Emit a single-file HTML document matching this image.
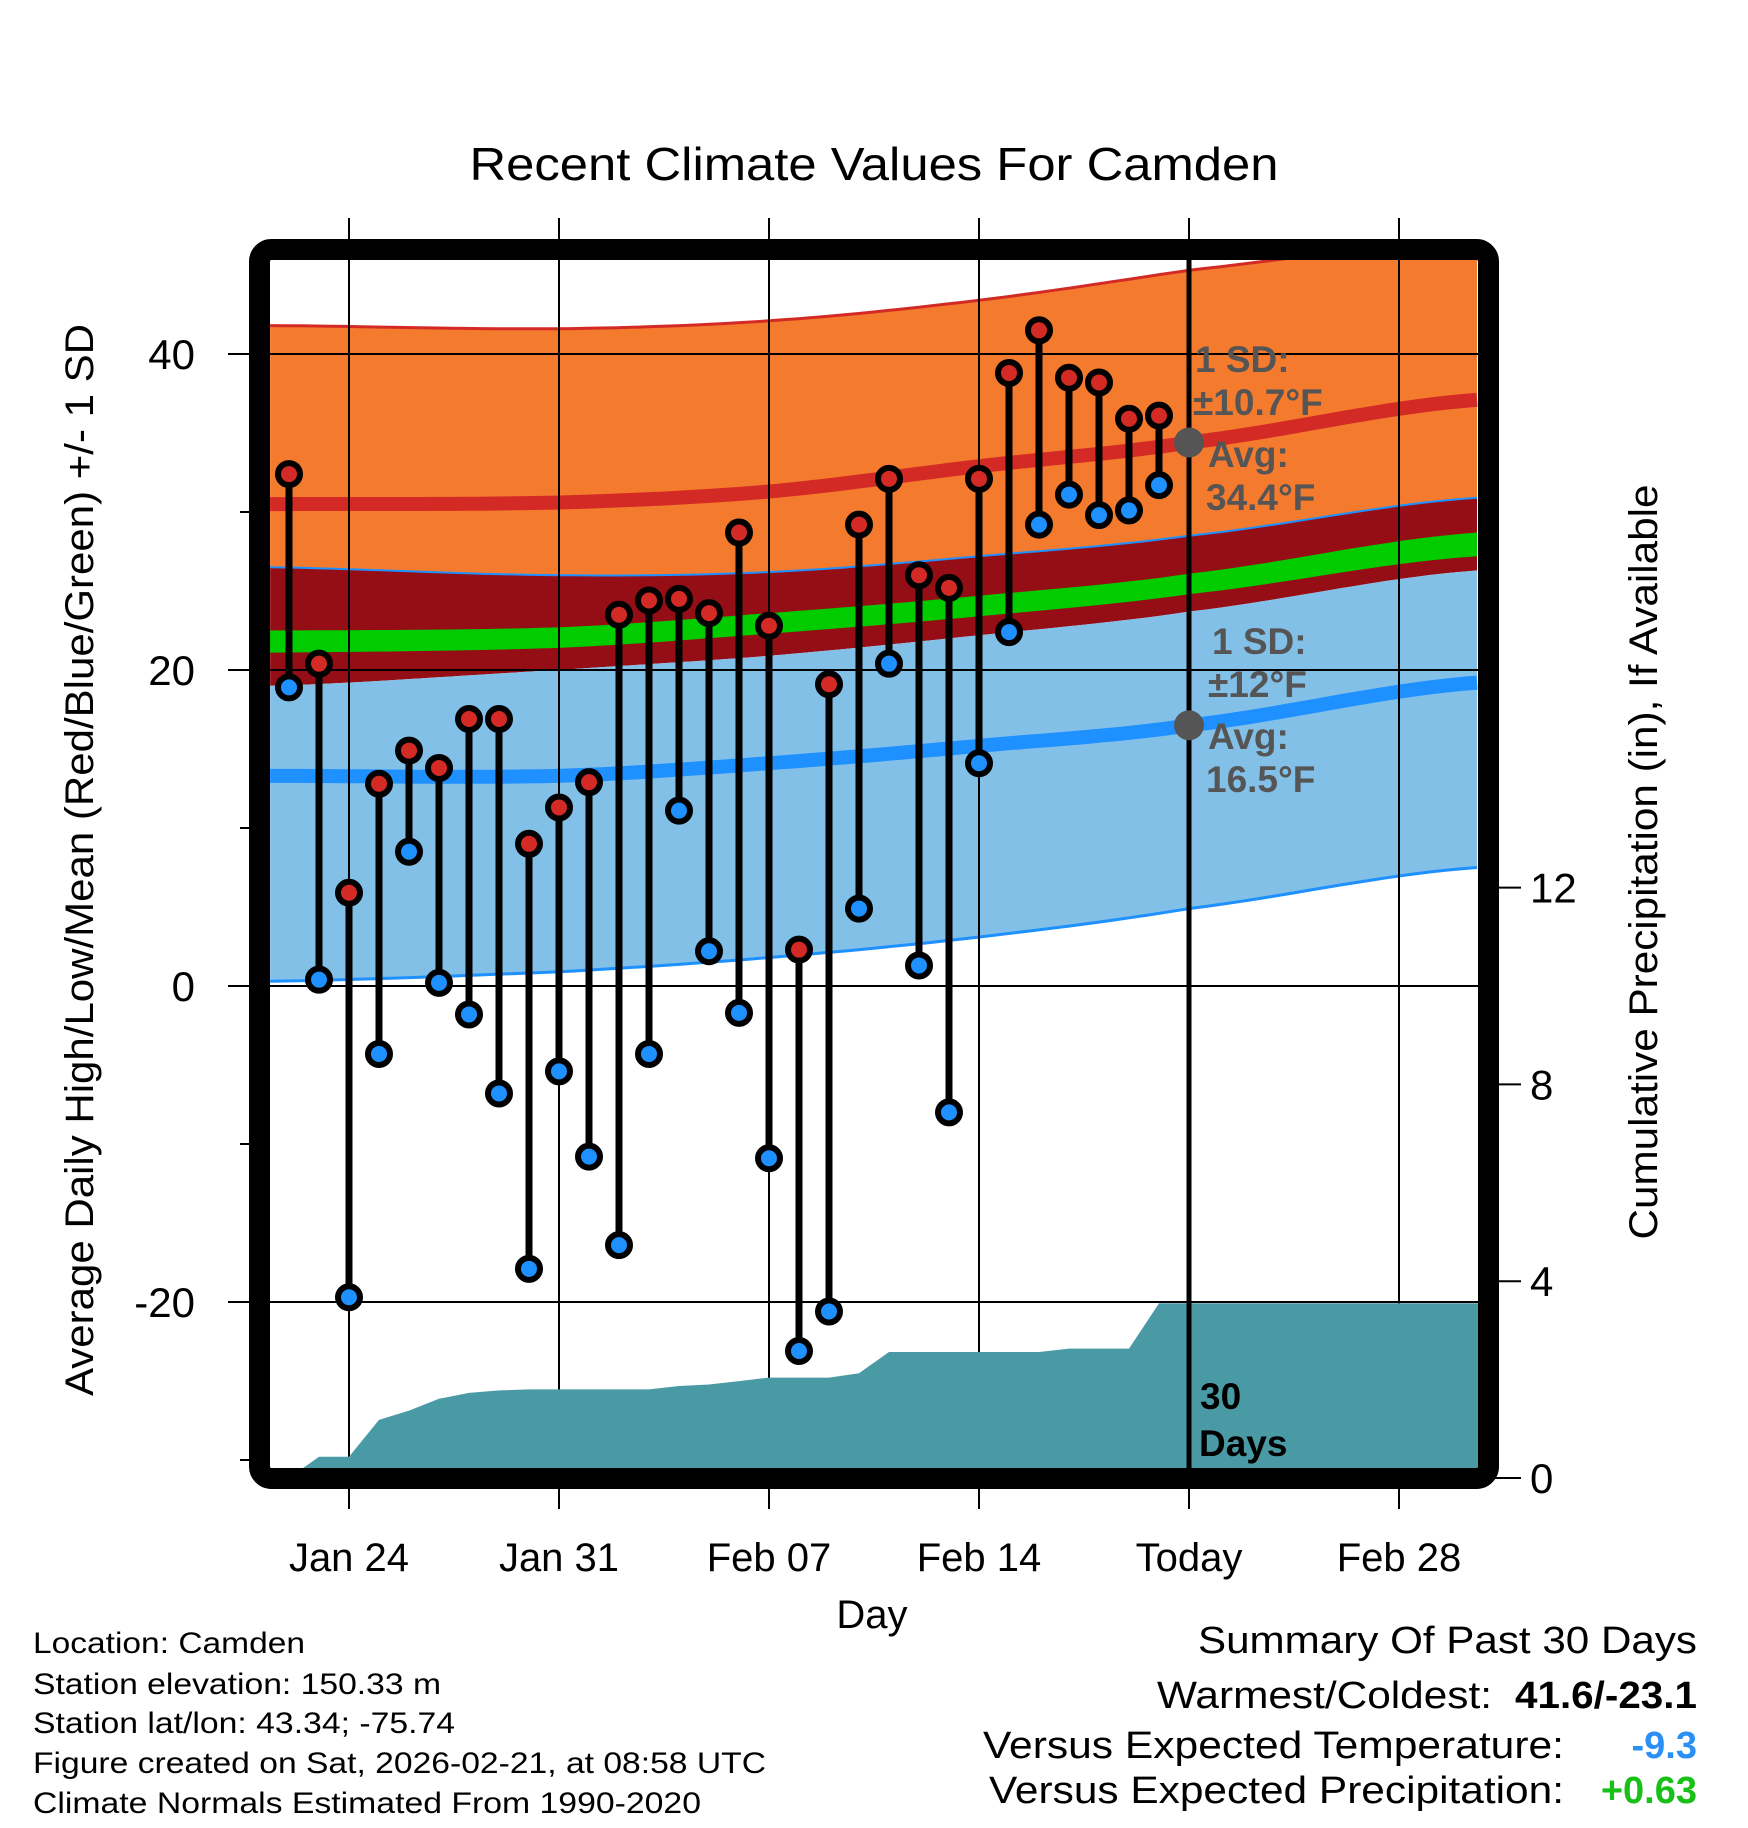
<!DOCTYPE html>
<html><head><meta charset="utf-8"><style>html,body{margin:0;padding:0;background:#fff}svg{display:block}text{font-family:"Liberation Sans",Arial,sans-serif}</style></head>
<body>
<svg id="chart" width="1748" height="1828" viewBox="0 0 1748 1828" xmlns="http://www.w3.org/2000/svg">
<defs><clipPath id="plotclip"><rect x="270" y="260" width="1208" height="1208"/></clipPath></defs>
<g id="bands" clip-path="url(#plotclip)"></g>
<g id="grid"></g>
<g id="precip" clip-path="url(#plotclip)"></g>
<g id="today"></g>
<g id="marks"></g>
<rect x="259.5" y="249.5" width="1229" height="1229" rx="12" fill="none" stroke="#000" stroke-width="21"/>
<g id="axes"></g>
<text x="874" y="180" font-size="46" text-anchor="middle" textLength="809" lengthAdjust="spacingAndGlyphs">Recent Climate Values For Camden</text>
<text transform="translate(93,860) rotate(-90)" font-size="40" text-anchor="middle" textLength="1072" lengthAdjust="spacingAndGlyphs">Average Daily High/Low/Mean (Red/Blue/Green) +/- 1 SD</text>
<text transform="translate(1657,862) rotate(-90)" font-size="40" text-anchor="middle" textLength="755" lengthAdjust="spacingAndGlyphs">Cumulative Precipitation (in), If Available</text>
<text x="872" y="1628" font-size="40" text-anchor="middle">Day</text>
<g font-size="30">
<text x="33" y="1653" textLength="272" lengthAdjust="spacingAndGlyphs">Location: Camden</text>
<text x="33" y="1694" textLength="408" lengthAdjust="spacingAndGlyphs">Station elevation: 150.33 m</text>
<text x="33" y="1733" textLength="422" lengthAdjust="spacingAndGlyphs">Station lat/lon: 43.34; -75.74</text>
<text x="33" y="1773" textLength="733" lengthAdjust="spacingAndGlyphs">Figure created on Sat, 2026-02-21, at 08:58 UTC</text>
<text x="33" y="1813" textLength="668" lengthAdjust="spacingAndGlyphs">Climate Normals Estimated From 1990-2020</text>
</g>
<g font-size="38">
<text x="1697" y="1653" text-anchor="end" textLength="499" lengthAdjust="spacingAndGlyphs">Summary Of Past 30 Days</text>
<text x="1492" y="1708" text-anchor="end" textLength="335" lengthAdjust="spacingAndGlyphs">Warmest/Coldest:</text>
<text x="1697" y="1708" text-anchor="end" font-weight="bold" textLength="182" lengthAdjust="spacingAndGlyphs">41.6/-23.1</text>
<text x="1564" y="1758" text-anchor="end" textLength="581" lengthAdjust="spacingAndGlyphs">Versus Expected Temperature:</text>
<text x="1697" y="1758" text-anchor="end" font-weight="bold" fill="#2b90f5">-9.3</text>
<text x="1564" y="1803" text-anchor="end" textLength="575" lengthAdjust="spacingAndGlyphs">Versus Expected Precipitation:</text>
<text x="1697" y="1803" text-anchor="end" font-weight="bold" fill="#18c018">+0.63</text>
</g>
<g font-size="37" font-weight="bold" fill="#555">
<text x="1195" y="372">1 SD:</text>
<text x="1193" y="415">±10.7°F</text>
<text x="1208" y="467">Avg:</text>
<text x="1206" y="510">34.4°F</text>
<text x="1212" y="654">1 SD:</text>
<text x="1208" y="697">±12°F</text>
<text x="1208" y="749">Avg:</text>
<text x="1206" y="792">16.5°F</text>
</g>
<g font-size="37" font-weight="bold" fill="#000">
<text x="1200" y="1409">30</text>
<text x="1199" y="1456">Days</text>
</g>
</svg>
<script>
// ---- data ----
const dayOffsets = [-2,-1,0,1,2,3,4,5,6,7,8,9,10,11,12,13,14,15,16,17,18,19,20,21,22,23,24,25,26,27];
const highs = [32.4,20.4,5.9,12.8,14.9,13.8,16.9,16.9,9.0,11.3,12.9,23.5,24.4,24.5,23.6,28.7,22.8,2.3,19.1,29.2,32.1,26.0,25.2,32.1,38.8,41.5,38.5,38.2,35.9,36.1];
const lows = [18.9,0.4,-19.7,-4.3,8.5,0.2,-1.8,-6.8,-17.9,-5.4,-10.8,-16.4,-4.3,11.1,2.2,-1.7,-10.9,-23.1,-20.6,4.9,20.4,1.3,-8.0,14.1,22.4,29.2,31.1,29.8,30.1,31.7];
const precipCum = [0,0.43,0.43,1.18,1.37,1.61,1.73,1.78,1.8,1.8,1.8,1.8,1.8,1.87,1.9,1.97,2.04,2.04,2.04,2.13,2.56,2.56,2.56,2.56,2.56,2.56,2.63,2.63,2.63,3.55];
const normalKnots = [-2.63,7,14,21,28,37.6];
const highUpper = [41.8,41.6,42.1,43.4,45.3,47.3];
const highMean = [30.5,30.6,31.3,32.9,34.4,37.1];
const highLower = [26.5,26.0,26.2,27.2,28.5,30.9];
const meanUpper = [22.5,22.7,23.6,24.7,26.1,28.7];
const meanLower = [21.1,21.4,22.3,23.4,24.8,27.2];
const lowUpper = [19.0,20.0,20.9,22.2,23.7,26.3];
const lowMean = [13.3,13.3,14.1,15.2,16.5,19.2];
const lowLower = [0.3,0.9,1.8,3.1,4.9,7.5];
const xTickDays = [0,7,14,21,28,35];
const xTickLabels = ["Jan 24","Jan 31","Feb 07","Feb 14","Today","Feb 28"];
const yTicks = [40,20,0,-20];
const yTickLabels = ["40","20","0","-20"];
const yMinorTicks = [30,10,-10,-30];
const pTicks = [0,4,8,12];
const pTickLabels = ["0","4","8","12"];
const todayDay = 28;
const todayHighAvg = 34.4, todayLowAvg = 16.5;

// ---- axes ----
const X = d => 349 + 30*d;
const Y = t => 986 - 15.8*t;
const P = p => 1478 - 49.2*p;
const NS = "http://www.w3.org/2000/svg";
function mk(tag, attrs, parent){const e=document.createElementNS(NS,tag);for(const k in attrs)e.setAttribute(k,attrs[k]);parent.appendChild(e);return e;}

function interp(knots, vals, d){
  let i=0; while(i<knots.length-2 && d>knots[i+1]) i++;
  const p0=vals[Math.max(i-1,0)],p1=vals[i],p2=vals[i+1],p3=vals[Math.min(i+2,vals.length-1)];
  const t=(d-knots[i])/(knots[i+1]-knots[i]);
  return 0.5*((2*p1)+(-p0+p2)*t+(2*p0-5*p1+4*p2-p3)*t*t+(-p0+3*p1-3*p2+p3)*t*t*t);
}
function curvePts(vals){const pts=[];const a=normalKnots[0],b=normalKnots[normalKnots.length-1];for(let k=0;k<=80;k++){const d=a+(b-a)*k/80;pts.push([X(d),Y(interp(normalKnots,vals,d))]);}return pts;}
function band(top,bot,fill,name,g){
  const t=curvePts(top), b=curvePts(bot).reverse();
  const el=mk('path',{d:'M'+t.concat(b).map(p=>p[0].toFixed(1)+','+p[1].toFixed(1)).join('L')+'Z',fill:fill},g);
  
  
}
function line(vals,stroke,w,name,g){
  const el=mk('path',{d:'M'+curvePts(vals).map(p=>p[0].toFixed(1)+','+p[1].toFixed(1)).join('L'),fill:'none',stroke:stroke,'stroke-width':w},g);
  
  
}
const bands=document.getElementById('bands');
band(highUpper,highLower,'#f47a2e','high-sd-band',bands);
band(highLower,lowUpper,'#960e15','mean-sd-band',bands);
band(meanUpper,meanLower,'#00cc00','mean-band',bands);
band(lowUpper,lowLower,'#82c0e8','low-sd-band',bands);
line(highUpper,'#d42a25',3,'high-upper-line',bands);
line(highLower,'#1e90ff',2,'high-lower-line',bands);
line(highMean,'#d42a25',14,'high-mean-line',bands);
line(lowMean,'#1e90ff',14,'low-mean-line',bands);
line(lowLower,'#1e90ff',3,'low-lower-line',bands);

// grid
const grid=document.getElementById('grid');
xTickDays.forEach(d=>{const l=mk('line',{x1:X(d),x2:X(d),y1:218,y2:1509,stroke:'#000','stroke-width':2},grid);

});
yTicks.forEach(t=>{const l=mk('line',{x1:228,x2:1478,y1:Y(t),y2:Y(t),stroke:'#000','stroke-width':2},grid);

});
yMinorTicks.forEach(t=>{const l=mk('line',{x1:240,x2:252,y1:Y(t),y2:Y(t),stroke:'#000','stroke-width':2},grid);

});
pTicks.forEach(p=>{const l=mk('line',{x1:1490,x2:1521,y1:P(p),y2:P(p),stroke:'#000','stroke-width':2},grid);

});

// precip
const pg=document.getElementById('precip');
let pd='M'+X(dayOffsets[0])+','+P(0);
dayOffsets.forEach((d,i)=>{pd+='L'+X(d)+','+P(precipCum[i]).toFixed(1);});
pd+='L1478,'+P(precipCum[precipCum.length-1]).toFixed(1)+'L1478,1478Z';
const pa=mk('path',{d:pd,fill:'#4a9aa5'},pg);



// today
const tg=document.getElementById('today');
const tl=mk('line',{x1:X(todayDay),x2:X(todayDay),y1:260,y2:1468,stroke:'#000','stroke-width':5},tg);


[todayHighAvg,todayLowAvg].forEach(v=>{const c=mk('circle',{cx:X(todayDay),cy:Y(v),r:15,fill:'#555'},tg);

});

// marks
const mg=document.getElementById('marks');
dayOffsets.forEach((d,i)=>{
  const s=mk('line',{x1:X(d),x2:X(d),y1:Y(highs[i]),y2:Y(lows[i]),stroke:'#000','stroke-width':7},mg);
  
  
});
dayOffsets.forEach((d,i)=>{
  const h=mk('circle',{cx:X(d),cy:Y(highs[i]),r:11,fill:'#d42a25',stroke:'#000','stroke-width':6},mg);
  
  
  const l=mk('circle',{cx:X(d),cy:Y(lows[i]),r:11,fill:'#1e90ff',stroke:'#000','stroke-width':6},mg);
  
  
});

// axis labels
const ag=document.getElementById('axes');
xTickDays.forEach((d,i)=>{const t=mk('text',{x:X(d),y:1571,'font-size':40,'text-anchor':'middle'},ag);t.textContent=xTickLabels[i];

});
yTicks.forEach((v,i)=>{const t=mk('text',{x:195,y:Y(v)+15,'font-size':42,'text-anchor':'end'},ag);t.textContent=yTickLabels[i];

});
pTicks.forEach((v,i)=>{const t=mk('text',{x:1530,y:P(v)+15,'font-size':42,'text-anchor':'start'},ag);t.textContent=pTickLabels[i];

});
</script>
</body></html>
